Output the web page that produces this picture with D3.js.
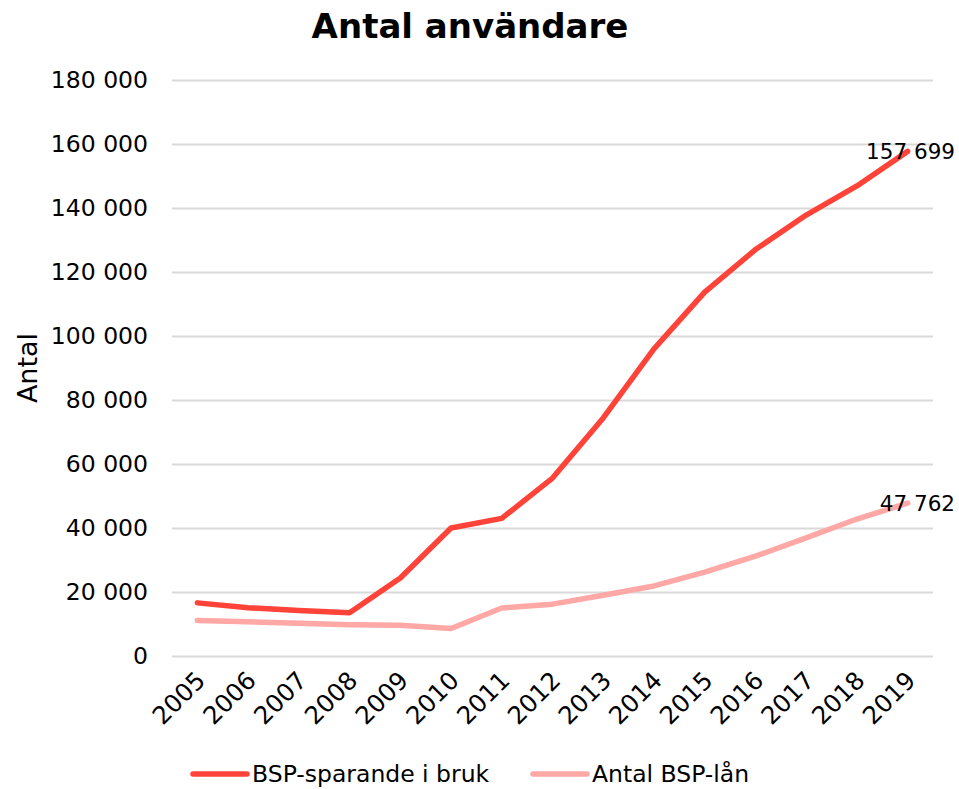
<!DOCTYPE html>
<html>
<head>
<meta charset="utf-8">
<script src="https://cdn.jsdelivr.net/npm/d3@7/dist/d3.min.js"></script>
<style>
  html, body { margin: 0; padding: 0; background: #fff; }
  svg { display: block; font-family: "DejaVu Sans", sans-serif; }
</style>
</head>
<body>
<svg id="chart" width="959" height="789"></svg>
<script>
const years = ["2005","2006","2007","2008","2009","2010","2011","2012","2013","2014","2015","2016","2017","2018","2019"];
const sparande = [16600, 15100, 14200, 13500, 24400, 40000, 43000, 55600, 74400, 96000, 113700, 127000, 137800, 146900, 157699];
const lan = [11100, 10700, 10200, 9800, 9600, 8600, 15000, 16200, 19000, 21900, 26200, 31200, 36900, 42800, 47762];
const yTicks = [0, 20000, 40000, 60000, 80000, 100000, 120000, 140000, 160000, 180000];
const seriesNames = ["BSP-sparande i bruk", "Antal BSP-lån"];
const seriesColors = ["#ff4339", "#ffa8a6"];

const svg = d3.select("#chart");
const m = { left: 172, right: 933, top: 80, bottom: 656 };

const x = d3.scalePoint().domain(years).range([m.left, m.right]).padding(0.5);
const y = d3.scaleLinear().domain([0, 180000]).range([m.bottom, m.top]);

const fmt = v => d3.format(",")(v).replace(/,/g, " ");

// Title
svg.append("text")
  .attr("x", 470).attr("y", 38)
  .attr("text-anchor", "middle")
  .attr("font-size", 34).attr("font-weight", 900)
  .attr("fill", "#000")
  .text("Antal användare");

// Horizontal gridlines + y labels
const yAxis = d3.axisLeft(y).tickValues(yTicks).tickSize(-(m.right - m.left)).tickFormat(fmt).tickPadding(24);
const gy = svg.append("g").attr("transform", `translate(${m.left},0)`).call(yAxis);
gy.select(".domain").remove();
gy.selectAll(".tick line").attr("stroke", "#d9d9d9").attr("stroke-width", 2);
gy.selectAll(".tick text").attr("font-size", 23.5).attr("fill", "#000")
  .attr("font-family", "DejaVu Sans, sans-serif");

// Y axis title
svg.append("text")
  .attr("transform", `translate(37,368) rotate(-90)`)
  .attr("text-anchor", "middle")
  .attr("font-size", 27).attr("fill", "#000")
  .text("Antal");

// X axis labels
const xAxis = d3.axisBottom(x).tickSize(0).tickPadding(0);
const gx = svg.append("g").attr("transform", `translate(0,${m.bottom})`).call(xAxis);
gx.select(".domain").remove();
gx.selectAll(".tick text")
  .attr("font-size", 24.5).attr("fill", "#000")
  .attr("font-family", "DejaVu Sans, sans-serif")
  .attr("text-anchor", "end")
  .attr("dy", 0)
  .attr("transform", "translate(9,26) rotate(-45)");

// Lines
const line = d3.line().x((d, i) => x(years[i])).y(d => y(d));
[sparande, lan].forEach((s, k) => {
  svg.append("path")
    .datum(s)
    .attr("fill", "none")
    .attr("stroke", seriesColors[k])
    .attr("stroke-width", 5.5)
    .attr("stroke-linejoin", "round")
    .attr("stroke-linecap", "round")
    .attr("d", line);
});

// End-value labels
[sparande, lan].forEach((s, k) => {
  const last = s[s.length - 1];
  svg.append("text")
    .attr("x", 955)
    .attr("y", y(last) + 8)
    .attr("text-anchor", "end")
    .attr("font-size", 21.5).attr("fill", "#000")
    .text(fmt(last));
});

// Legend
const legendX = [193, 533];
seriesNames.forEach((name, k) => {
  const g = svg.append("g").attr("transform", `translate(${legendX[k]},774)`);
  g.append("line").attr("x1", 0).attr("x2", 54).attr("y1", 0).attr("y2", 0)
    .attr("stroke", seriesColors[k]).attr("stroke-width", 5.5).attr("stroke-linecap", "round");
  g.append("text").attr("x", 59).attr("y", 8)
    .attr("font-size", 23.5).attr("fill", "#000")
    .text(name);
});
</script>
</body>
</html>
